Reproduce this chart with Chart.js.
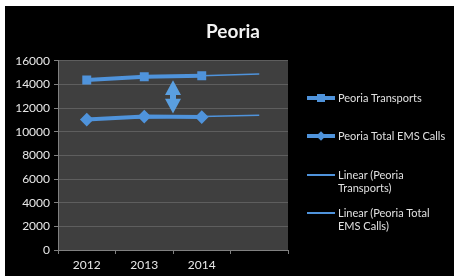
<!DOCTYPE html>
<html>
<head>
<meta charset="utf-8">
<script src="https://cdn.jsdelivr.net/npm/chart.js@4"></script>
<style>
  body { margin: 0; background: #fff; }
  #wrap { position: absolute; left: 5px; top: 6px; width: 449px; height: 270px; background: #000; }
  #legend { position: absolute; left: 302px; top: 0; font: 11px Lato, sans-serif; color: #e0e0e0; }
  .item { position: absolute; left: 0; white-space: nowrap; }
  .item .sw { position: absolute; left: 0; width: 28px; }
  .item .txt { position: absolute; left: 31px; line-height: 13px; }
</style>
</head>
<body>
<div id="wrap">
  <canvas id="chart"></canvas>
  <div id="legend"></div>
</div>
<script>
const years = ['2012', '2013', '2014', ''];
const transports = [14380, 14650, 14740, null];
const emsCalls = [11030, 11280, 11240, null];
const transportsTrend = [14430, 14580, 14730, 14880];
const emsTrend = [11090, 11190, 11290, 11390];
const arrowSpan = [14350, 11550];
const yTicks = { min: 0, max: 16000, step: 2000 };

const blue = '#4f93db';

// double headed arrow between the two series
const arrowPlugin = {
  id: 'gapArrow',
  afterDatasetsDraw(chart) {
    const x = (chart.scales.x.getPixelForValue(1) + chart.scales.x.getPixelForValue(2)) / 2;
    const top = chart.scales.y.getPixelForValue(arrowSpan[0]);
    const bot = chart.scales.y.getPixelForValue(arrowSpan[1]);
    const head = (bot - top) * 0.44;
    const ctx = chart.ctx;
    ctx.save();
    ctx.fillStyle = '#5a9fe0';
    ctx.beginPath();
    ctx.moveTo(x, top);
    ctx.lineTo(x + 8, top + head);
    ctx.lineTo(x + 3, top + head);
    ctx.lineTo(x + 3, bot - head);
    ctx.lineTo(x + 8, bot - head);
    ctx.lineTo(x, bot);
    ctx.lineTo(x - 8, bot - head);
    ctx.lineTo(x - 3, bot - head);
    ctx.lineTo(x - 3, top + head);
    ctx.lineTo(x - 8, top + head);
    ctx.closePath();
    ctx.fill();
    ctx.restore();
  }
};

const plotBg = {
  id: 'plotBg',
  beforeDraw(chart) {
    const a = chart.chartArea;
    chart.ctx.save();
    chart.ctx.fillStyle = '#3f3f3f';
    chart.ctx.fillRect(a.left, a.top, a.right - a.left, a.bottom - a.top);
    chart.ctx.restore();
  }
};

new Chart(document.getElementById('chart'), {
  type: 'line',
  data: {
    labels: years,
    datasets: [
      { label: 'Peoria Transports', data: transports, borderColor: blue, backgroundColor: blue,
        borderWidth: 4, pointStyle: 'rect', pointRadius: 3.5, tension: 0 },
      { label: 'Peoria Total EMS Calls', data: emsCalls, borderColor: blue, backgroundColor: blue,
        borderWidth: 4, pointStyle: 'rectRot', pointRadius: 4, tension: 0 },
      { label: 'Linear (Peoria Transports)', data: transportsTrend, borderColor: blue,
        borderWidth: 1.5, pointRadius: 0 },
      { label: 'Linear (Peoria Total EMS Calls)', data: emsTrend, borderColor: blue,
        borderWidth: 1.5, pointRadius: 0 }
    ]
  },
  options: {
    responsive: true,
    maintainAspectRatio: false,
    animation: false,
    layout: { padding: { left: 7, right: 0, top: 0, bottom: 0 } },
    plugins: {
      legend: { display: false },
      tooltip: { enabled: false },
      title: {
        display: true, text: 'Peoria', color: '#f2f2f2',
        font: { family: 'Lato', size: 19, weight: 'bold' },
        padding: { top: 14, bottom: 18 }
      }
    },
    scales: {
      x: {
        offset: true,
        grid: { display: true, drawOnChartArea: false, offset: true, tickLength: 4, color: '#808080' },
        border: { color: '#808080' },
        ticks: { color: '#e8e8e8', font: { family: 'Lato', size: 12 }, padding: 4 },
        afterFit(s) { s.height = 26; }
      },
      y: {
        min: yTicks.min, max: yTicks.max,
        ticks: { stepSize: yTicks.step, color: '#e8e8e8', font: { family: 'Lato', size: 12 }, padding: 4,
          callback: v => String(v) },
        grid: { color: '#5e5e5e', tickLength: 4, tickColor: '#808080' },
        border: { color: '#808080' },
        afterFit(s) { s.width = 46; }
      },
      legendSpace: {
        position: 'right', display: true,
        ticks: { display: false }, grid: { display: false }, border: { display: false },
        afterFit(s) { s.width = 166; }
      }
    }
  },
  plugins: [plotBg, arrowPlugin]
});

// legend drawn as html so the trend labels can wrap
const legendRows = [
  { text: 'Peoria Transports', top: 92, marker: 'rect' },
  { text: 'Peoria Total EMS Calls', top: 130, marker: 'diamond' },
  { text: 'Linear (Peoria<br>Transports)', top: 169, marker: null },
  { text: 'Linear (Peoria Total<br>EMS Calls)', top: 207, marker: null }
];
const legend = document.getElementById('legend');
legendRows.forEach(r => {
  const div = document.createElement('div');
  div.className = 'item';
  div.style.top = r.top + 'px';
  const sw = document.createElement('div');
  sw.className = 'sw';
  const thick = r.marker ? 4 : 1.5;
  sw.style.top = (-thick / 2) + 'px';
  sw.style.height = thick + 'px';
  sw.style.background = blue;
  div.appendChild(sw);
  if (r.marker) {
    const m = document.createElement('div');
    m.style.position = 'absolute';
    m.style.left = '10px';
    m.style.top = '-4px';
    m.style.width = '8px';
    m.style.height = '8px';
    m.style.background = blue;
    if (r.marker === 'diamond') m.style.transform = 'rotate(45deg) scale(0.85)';
    div.appendChild(m);
  }
  const t = document.createElement('div');
  t.className = 'txt';
  t.style.top = '-7px';
  t.innerHTML = r.text;
  div.appendChild(t);
  legend.appendChild(div);
});
</script>
</body>
</html>
